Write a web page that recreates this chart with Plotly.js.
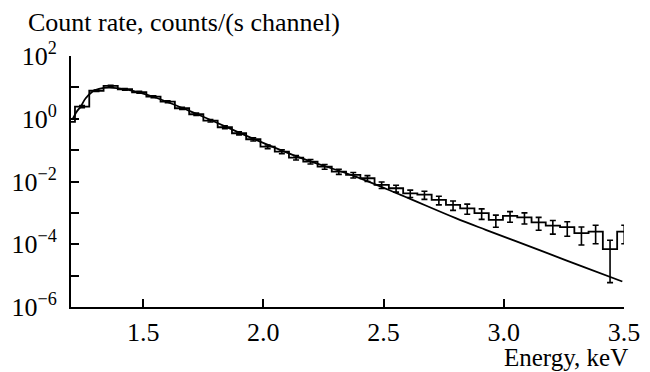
<!DOCTYPE html>
<html>
<head>
<meta charset="utf-8">
<script src="https://cdn.plot.ly/plotly-3.0.1.min.js"></script>
<style>html,body{margin:0;padding:0;background:#fff;}#chart{width:650px;height:372px;}</style>
</head>
<body>
<div id="chart"></div>
<script>
// Observed spectrum: channel centre energies (keV), count rate and 1-sigma errors
const channelEnergy = [1.187, 1.246, 1.306, 1.365, 1.424, 1.484, 1.543, 1.602, 1.662, 1.721,
  1.780, 1.840, 1.899, 1.958, 2.018, 2.077, 2.136, 2.196, 2.255, 2.314,
  2.374, 2.433, 2.492, 2.552, 2.611, 2.670, 2.730, 2.789, 2.848, 2.908,
  2.967, 3.026, 3.086, 3.145, 3.204, 3.264, 3.323, 3.382, 3.442, 3.501];
const countRate = [0.79, 2.43, 7.8, 11.1, 8.7, 6.98, 5.06, 3.51, 2.16, 1.39,
  0.87, 0.536, 0.345, 0.222, 0.129, 0.0895, 0.0577, 0.043, 0.0298, 0.0207,
  0.0162, 0.0127, 0.0078, 0.0061, 0.0042, 0.0038, 0.0026, 0.0018, 0.0014, 0.00098,
  0.0006, 0.0008, 0.00072, 0.0005, 0.00039, 0.00035, 0.000225, 0.000254, 0.00007, 0.000254];
const countErr = [0.1, 0.2, 0.4, 0.6, 0.5, 0.45, 0.35, 0.25, 0.17, 0.12,
  0.08, 0.055, 0.038, 0.026, 0.017, 0.013, 0.009, 0.007, 0.0052, 0.0038,
  0.0032, 0.0027, 0.0018, 0.0015, 0.0011, 0.0011, 0.0008, 0.0006, 0.0005, 0.00036,
  0.00025, 0.0003, 0.00028, 0.00022, 0.00018, 0.00017, 0.00013, 0.00015, 0.000064, 0.00015];

// Model curve
const modelEnergy = [1.205, 1.223, 1.240, 1.261, 1.289, 1.316, 1.358, 1.427, 1.544, 1.723,
  1.960, 2.155, 2.384, 2.571, 2.800, 2.925, 3.154, 3.320, 3.493];
const modelRate = [0.916, 1.65, 2.43, 4.50, 7.30, 8.89, 9.77, 8.57, 4.94, 1.42,
  0.2275, 0.0565, 0.01432, 0.00374, 0.000678, 0.000288, 0.0000625, 0.0000205, 0.00000649];

// Axis ticks
const xTickVals = [1.5, 2.0, 2.5, 3.0, 3.5];
const xTickText = ['1.5', '2.0', '2.5', '3.0', '3.5'];
const yTickVals = [1e2, 1e0, 1e-2, 1e-4, 1e-6];
const yTickText = ['10<sup>2</sup>', '10<sup>0</sup>', '10<sup>−2</sup>', '10<sup>−4</sup>', '10<sup>−6</sup>'];
const yMinorVals = [1e1, 1e-1, 1e-3, 1e-5];

const FONT = 'Liberation Serif, Times New Roman, serif';
const FS = 26;

const traces = [
  {
    x: channelEnergy, y: countRate, type: 'scatter', mode: 'lines',
    line: {shape: 'hvh', color: '#000', width: 1.8},
    error_y: {type: 'data', array: countErr, visible: true, color: '#000', thickness: 1.6, width: 3},
    hoverinfo: 'skip', showlegend: false
  },
  {
    x: modelEnergy, y: modelRate, type: 'scatter', mode: 'lines',
    line: {shape: 'spline', color: '#000', width: 1.8},
    hoverinfo: 'skip', showlegend: false
  }
];

const layout = {
  width: 650, height: 372,
  margin: {l: 71, r: 26, t: 56, b: 65},
  paper_bgcolor: '#fff', plot_bgcolor: '#fff',
  font: {family: FONT, size: FS, color: '#000'},
  showlegend: false,
  title: {
    text: 'Count rate, counts/(s channel)',
    font: {family: FONT, size: FS, color: '#000'},
    xref: 'container', yref: 'container',
    x: 28 / 650, xanchor: 'left', y: 1 - 22 / 372, yanchor: 'middle'
  },
  xaxis: {
    range: [1.2, 3.5], showgrid: false, zeroline: false,
    showline: true, linecolor: '#000', linewidth: 2,
    ticks: 'inside', ticklen: 8, tickwidth: 2, tickcolor: '#000',
    tickmode: 'array', tickvals: xTickVals, ticktext: xTickText,
    tickfont: {family: FONT, size: FS, color: '#000'},
    ticklabelstandoff: 1
  },
  yaxis: {
    type: 'log', range: [-6, 2], showgrid: false, zeroline: false,
    showline: true, linecolor: '#000', linewidth: 2,
    ticks: 'inside', ticklen: 8, tickwidth: 2, tickcolor: '#000',
    tickmode: 'array', tickvals: yTickVals, ticktext: yTickText,
    tickfont: {family: FONT, size: FS, color: '#000'},
    ticklabelstandoff: 7,
    minor: {tickmode: 'array', tickvals: yMinorVals, ticks: 'inside', ticklen: 8, tickwidth: 2, tickcolor: '#000', showgrid: false}
  },
  annotations: [
    {
      text: 'Energy, keV', xref: 'paper', yref: 'paper', x: 1, y: 0,
      xanchor: 'right', yanchor: 'bottom', xshift: 5, yshift: -65,
      borderpad: 0,
      showarrow: false, font: {family: FONT, size: 25, color: '#000'}
    }
  ]
};

Plotly.newPlot('chart', traces, layout, {displayModeBar: false, staticPlot: true});
</script>
</body>
</html>
